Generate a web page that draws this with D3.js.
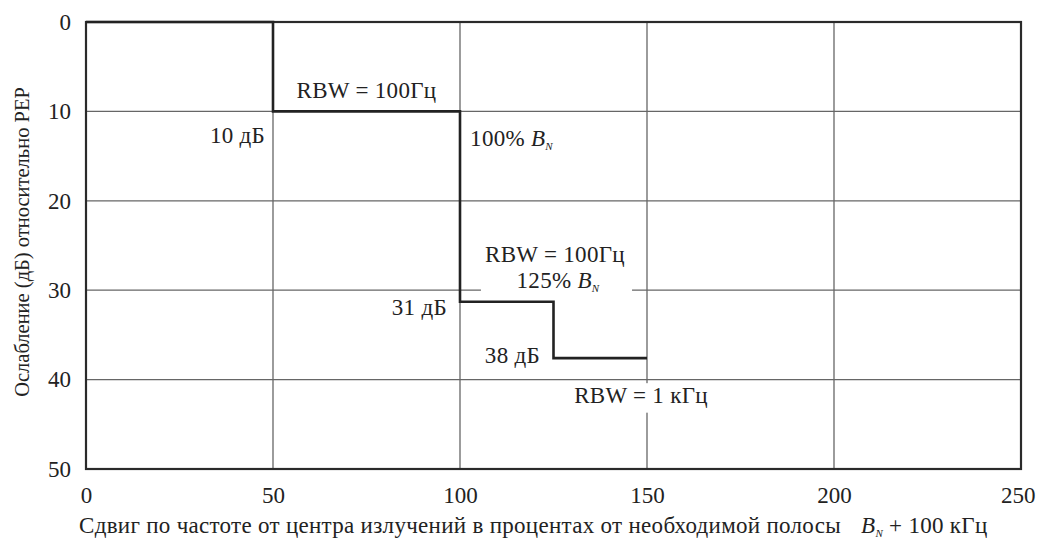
<!DOCTYPE html>
<html><head><meta charset="utf-8">
<script src="https://cdn.jsdelivr.net/npm/d3@7"></script>
<style>
html,body{margin:0;padding:0;background:#fff;}
</style></head>
<body><svg id="c" width="1037" height="540"></svg>
<script>
// ---- data ----
const xTicks = [0, 50, 100, 150, 200, 250];
const yTicks = [0, 10, 20, 30, 40, 50];
const maskOffset = [0, 50, 100, 125, 150];        // % of B_N
const maskAtten = [0, 10, 31.3, 37.6, 37.6];      // dB relative to PEP
const xTitle = "Сдвиг по частоте от центра излучений в процентах от необходимой полосы";
const yTitle = "Ослабление (дБ) относительно PEP";

const FONT = "'Liberation Serif', 'Times New Roman', serif";
const svg = d3.select("#c").style("font-family", FONT);
const M = {l: 86, r: 1021, t: 22, b: 469};
const x = d3.scaleLinear().domain([0, 250]).range([M.l, M.r]);
const y = d3.scaleLinear().domain([0, 50]).range([M.t, M.b]);
const FS = 23, LS = "0.3px", INK = "#222";

// grid
const g = svg.append("g");
g.selectAll(".gx").data(xTicks.slice(1, -1)).join("line")
  .attr("x1", d => x(d)).attr("x2", d => x(d)).attr("y1", M.t).attr("y2", M.b)
  .attr("stroke", "#666").attr("stroke-width", 1.3);
g.selectAll(".gy").data(yTicks.slice(1, -1)).join("line")
  .attr("y1", d => y(d)).attr("y2", d => y(d)).attr("x1", M.l).attr("x2", M.r)
  .attr("stroke", "#666").attr("stroke-width", 1.3);

// axes (labels only)
const xa = svg.append("g").attr("transform", `translate(0,${M.b})`)
  .call(d3.axisBottom(x).tickValues(xTicks).tickSize(0).tickPadding(18));
const ya = svg.append("g").attr("transform", `translate(${M.l},0)`)
  .call(d3.axisLeft(y).tickValues(yTicks).tickSize(0).tickPadding(15));
[xa, ya].forEach(a => {
  a.attr("font-family", null).attr("font-size", FS);
  a.select(".domain").remove();
  a.selectAll("text").attr("fill", INK);
});
// last x tick label kept inside the picture
xa.selectAll(".tick").filter(d => d === 250).select("text").attr("text-anchor", "end").attr("dx", 14);

// white masks behind labels crossing grid
svg.append("rect").attr("x", x(105.6)).attr("y", y(27.5)).attr("width", x(146) - x(105.6)).attr("height", y(30.8) - y(27.5)).attr("fill", "#fff");
svg.append("rect").attr("x", x(147)).attr("y", y(40.4)).attr("width", x(153) - x(147)).attr("height", y(43.7) - y(40.4)).attr("fill", "#fff");

// frame
svg.append("rect").attr("x", M.l).attr("y", M.t).attr("width", M.r - M.l).attr("height", M.b - M.t)
  .attr("fill", "none").attr("stroke", "#2a2a2a").attr("stroke-width", 2.2);

// mask line
const pts = maskOffset.map((d, i) => [d, maskAtten[i]]);
svg.append("path").datum(pts)
  .attr("d", d3.line().x(d => x(d[0])).y(d => y(d[1])).curve(d3.curveStepAfter))
  .attr("fill", "none").attr("stroke", INK).attr("stroke-width", 2.6);

// annotations
function label(txt, vx, vy, anchor, bn) {
  const t = svg.append("text").attr("x", x(vx)).attr("y", y(vy))
    .attr("text-anchor", anchor).attr("font-size", FS).attr("fill", INK).style("letter-spacing", LS);
  t.append("tspan").text(txt);
  if (bn) {
    t.append("tspan").text(" B").attr("font-style", "italic");
    t.append("tspan").text("N").attr("font-style", "italic").attr("font-size", 11).attr("dy", 4);
  }
  return t;
}
label("RBW = 100Гц", 75, 8.5, "middle");
label("10 дБ", 47.9, 13.5, "end");
label("100%", 102.7, 13.9, "start", true);
label("RBW = 100Гц", 125.4, 26.8, "middle");
label("125%", 126.2, 29.8, "middle", true);
label("31 дБ", 96.5, 32.8, "end");
label("38 дБ", 121.4, 38.1, "end");
label("RBW = 1 кГц", 148.4, 42.6, "middle");

// axis titles
const xt = svg.append("text").attr("x", 79).attr("y", 533).attr("font-size", FS).attr("text-anchor", "start").attr("fill", INK).style("letter-spacing", LS);
xt.append("tspan").text(xTitle);
xt.append("tspan").text("B").attr("dx", 20).attr("font-style", "italic");
xt.append("tspan").text("N").attr("font-style", "italic").attr("font-size", 11).attr("dy", 4);
xt.append("tspan").text(" + 100 кГц").attr("dy", -4);

svg.append("text").attr("transform", `translate(29,242) rotate(-90)`)
  .attr("text-anchor", "middle").attr("font-size", 20.5).attr("fill", INK).text(yTitle);
</script></body></html>
